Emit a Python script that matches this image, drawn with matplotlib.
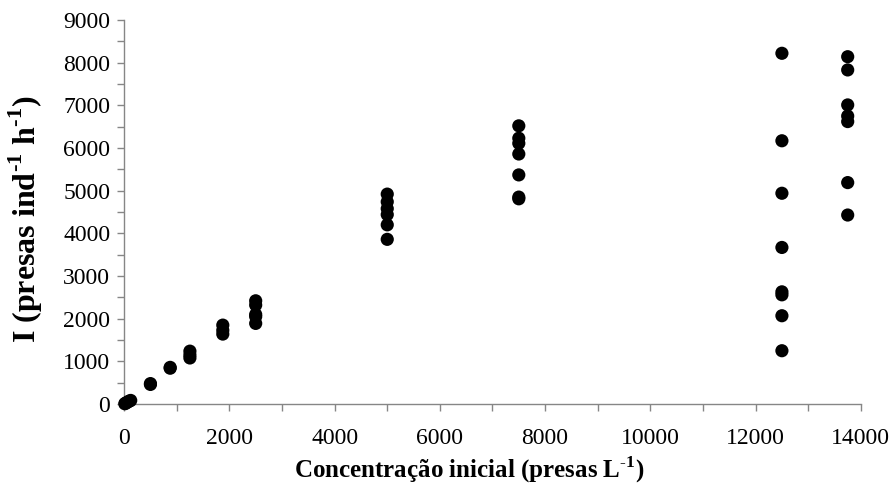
import numpy as np
import matplotlib
matplotlib.use("Agg")
import matplotlib.pyplot as plt
import matplotlib.ticker as ticker

plt.rcParams['font.family'] = ['Liberation Serif', 'DejaVu Serif']
plt.rcParams['mathtext.fontset'] = 'custom'
plt.rcParams['mathtext.rm'] = 'Liberation Serif'
plt.rcParams['mathtext.bf'] = 'Liberation Serif:bold'

# initial prey concentration (presas/L) and ingestion rate per replicate
conc_low = [12.5, 25, 50, 75, 100, 125]
ing_low = [8, 18, 35, 55, 70, 85]

conc_500 = [500, 500]
ing_500 = [460, 480]

conc_875 = [875, 875]
ing_875 = [840, 860]

conc_1250 = [1250, 1250, 1250]
ing_1250 = [1080, 1150, 1240]

conc_1875 = [1875, 1875, 1875]
ing_1875 = [1640, 1730, 1850]

conc_2500 = [2500, 2500, 2500, 2500, 2500]
ing_2500 = [1890, 2050, 2100, 2320, 2420]

conc_5000 = [5000, 5000, 5000, 5000, 5000, 5000]
ing_5000 = [3860, 4200, 4440, 4580, 4740, 4920]

conc_7500 = [7500, 7500, 7500, 7500, 7500, 7500, 7500]
ing_7500 = [4810, 4850, 5370, 5860, 6110, 6230, 6520]

conc_12500 = [12500] * 8
ing_12500 = [1250, 2070, 2560, 2630, 3670, 4940, 6170, 8220]

conc_13750 = [13750] * 7
ing_13750 = [4430, 5190, 6620, 6750, 7010, 7830, 8140]

x = np.concatenate([conc_low, conc_500, conc_875, conc_1250, conc_1875,
                    conc_2500, conc_5000, conc_7500, conc_12500, conc_13750])
y = np.concatenate([ing_low, ing_500, ing_875, ing_1250, ing_1875,
                    ing_2500, ing_5000, ing_7500, ing_12500, ing_13750])

fig = plt.figure(figsize=(8.93, 4.88), dpi=100)
ax = fig.add_axes([0.139, 0.172, 0.825, 0.787])

ax.scatter(x, y, s=90, c='black', edgecolors='none', zorder=3, clip_on=False)

ax.set_xlim(0, 14000)
ax.set_ylim(0, 9000)
ax.xaxis.set_major_locator(ticker.MultipleLocator(2000))
ax.xaxis.set_minor_locator(ticker.MultipleLocator(1000))
ax.yaxis.set_major_locator(ticker.MultipleLocator(1000))
ax.yaxis.set_minor_locator(ticker.MultipleLocator(500))

gray = '#868686'
for side in ['top', 'right']:
    ax.spines[side].set_visible(False)
for side in ['left', 'bottom']:
    ax.spines[side].set_color(gray)
    ax.spines[side].set_linewidth(1.0)

ax.tick_params(axis='both', which='both', direction='out', length=5,
               width=1.0, color=gray, labelsize=17)
ax.tick_params(axis='x', which='both', pad=12)
ax.tick_params(axis='y', which='both', pad=5)

ax.set_xlabel(r'Concentração inicial (presas L$^{\mathbf{\text{-}1}}$)',
              fontsize=18, fontweight='bold')
ax.set_ylabel(r'I (presas ind$^{\mathbf{\text{-}1}}$ h$^{\mathbf{\text{-}1}}$)',
              fontsize=23, fontweight='bold')
ax.xaxis.set_label_coords(0.468, -0.132)
ax.yaxis.set_label_coords(-0.107, 0.482)

fig.savefig('out.png', dpi=100)
